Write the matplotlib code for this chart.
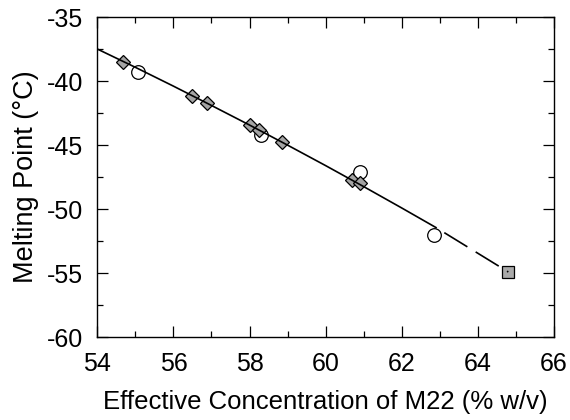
import matplotlib
matplotlib.use("Agg")
import matplotlib.pyplot as plt
from matplotlib.ticker import MultipleLocator

plt.rcParams['font.family'] = ['Liberation Sans', 'DejaVu Sans']
plt.rcParams['lines.scale_dashes'] = False
plt.rcParams['axes.unicode_minus'] = False

# Diamonds (grey filled)
dia_x = [54.68, 56.50, 56.89, 58.01, 58.25, 58.85, 60.68, 60.90]
dia_y = [-38.54, -41.17, -41.74, -43.44, -43.83, -44.74, -47.73, -47.99]
# Open circles
cir_x = [55.08, 58.31, 60.90, 62.85]
cir_y = [-39.27, -44.22, -47.09, -52.03]
# Grey square
sq_x = [64.80]
sq_y = [-54.92]
# Fitted curve (solid)
fit_x = [54, 55, 56, 57, 58, 59, 60, 61, 62, 62.9]
fit_y = [-37.50, -38.93, -40.40, -41.91, -43.44, -45.01, -46.61, -48.25, -49.92, -51.45]
# Extrapolation (dashed)
ext_x = [62.9, 64.8]
ext_y = [-51.45, -54.92]

fig = plt.figure(figsize=(5.7, 4.2), dpi=100)
ax = fig.add_axes([0.1707, 0.1976, 0.9719 - 0.1707, 0.9595 - 0.1976])

ax.plot(cir_x, cir_y, 'o', ms=9.8, mfc='none', mec='black', mew=0.9, zorder=2)
ax.plot(dia_x, dia_y, 'D', ms=6.8, mfc='#a4a4a4', mec='black', mew=0.9, zorder=2)
ax.plot(sq_x, sq_y, 's', ms=8, mfc='#aaaaaa', mec='black', mew=0.9, zorder=2)
ax.plot(fit_x, fit_y, '-', color='black', lw=1.2, zorder=3)
ax.plot(ext_x, ext_y, color='black', lw=1.2, zorder=3,
        linestyle=(19.5, (19.5, 7.0)))

ax.set_xlim(54, 66)
ax.set_ylim(-60, -35)
ax.xaxis.set_major_locator(MultipleLocator(2))
ax.xaxis.set_minor_locator(MultipleLocator(1))
ax.yaxis.set_major_locator(MultipleLocator(5))
ax.yaxis.set_minor_locator(MultipleLocator(2.5))
ax.tick_params(which='both', direction='in', top=True, right=True, width=0.9,
               labelsize=18)
ax.tick_params(which='major', length=8)
ax.tick_params(which='minor', length=4.5)
ax.tick_params(axis='x', which='major', pad=11)
ax.tick_params(axis='y', which='major', pad=10)
for s in ax.spines.values():
    s.set_linewidth(1.0)

ax.set_xlabel('Effective Concentration of M22 (% w/v)', fontsize=18.5, labelpad=10)
ax.set_ylabel('Melting Point (°C)', fontsize=19.5, labelpad=6)

fig.savefig('out.png', dpi=100)
